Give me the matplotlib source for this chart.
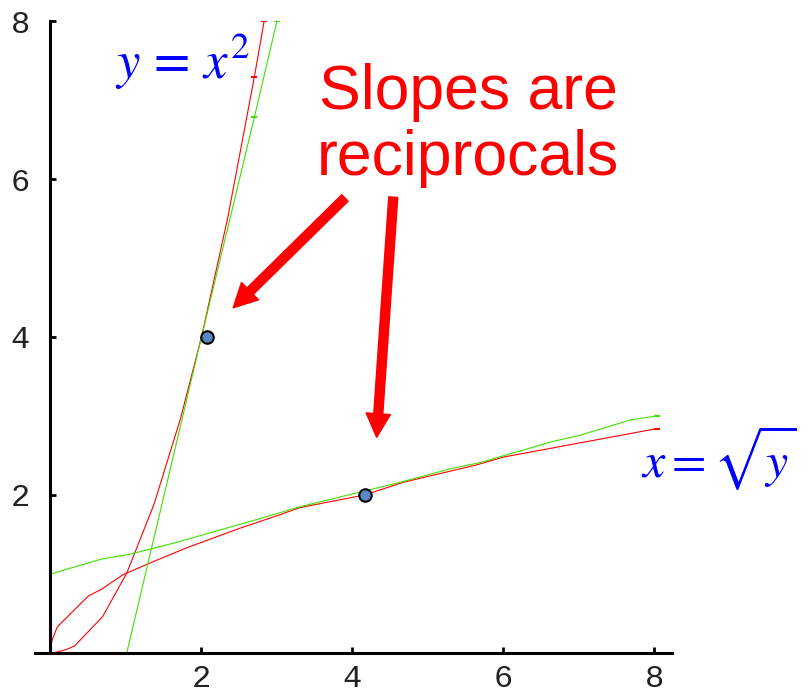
import matplotlib.pyplot as plt

# parabola y = x^2, sampled points
par_x = [0.07, 0.20, 0.32, 0.69, 1.01, 1.37, 1.72, 2.00, 2.35, 2.70, 2.83]
par_y = [0.01, 0.04, 0.09, 0.46, 1.01, 1.88, 2.96, 4.00, 5.52, 7.29, 8.00]

# inverse x = sqrt(y), sampled points
root_x = [0.00, 0.02, 0.09, 0.50, 0.68, 0.96, 1.32, 1.80, 2.51, 3.04, 3.30,
          4.16, 4.67, 5.64, 6.00, 8.03]
root_y = [0.04, 0.16, 0.33, 0.72, 0.81, 0.99, 1.14, 1.33, 1.58, 1.75, 1.84,
          2.00, 2.16, 2.38, 2.48, 2.84]

# tangent lines at the two points
tan1_x = [1.01, 2.00, 2.70, 3.00]
tan1_y = [0.00, 4.00, 6.78, 8.00]
tan2_x = [0.00, 0.68, 1.05, 1.67, 2.77, 3.30, 4.67, 5.33, 5.69, 6.66, 6.99, 7.68, 8.03]
tan2_y = [1.00, 1.19, 1.25, 1.40, 1.70, 1.85, 2.17, 2.34, 2.41, 2.68, 2.75, 2.95, 3.00]

# points of tangency
pts_x = [2.07, 4.16]
pts_y = [4.00, 2.00]

# arrow tails and tips
arrow_tail = [(3.90, 5.76), (4.54, 5.77)]
arrow_tip = [(2.42, 4.37), (4.32, 2.73)]

ticks = [2, 4, 6, 8]

red = "#ff0000"
green = "#40e000"
blue = "#0000ff"

plt.rcParams["mathtext.fontset"] = "stix"

fig = plt.figure(figsize=(8.08, 6.98), dpi=100)
ax = fig.add_axes([0.0438, 0.0645, 0.7877, 0.9054])
ax.set_xlim(-0.2, 8.23)
ax.set_ylim(0, 8)

ax.plot(par_x, par_y, color=red, lw=0.8)
ax.plot(root_x, root_y, color=red, lw=0.8)
ax.plot(tan1_x, tan1_y, color=green, lw=0.8)
ax.plot(tan2_x, tan2_y, color=green, lw=0.8)

# little end marks on the steep curves
ax.plot([par_x[-2], par_x[-1]], [par_y[-2], par_y[-1]], ls="none",
        marker="_", ms=5, mew=1.5, color=red)
ax.plot([tan1_x[-2], tan1_x[-1]], [tan1_y[-2], tan1_y[-1]], ls="none",
        marker="_", ms=5, mew=1.5, color=green)
ax.plot([root_x[-1]], [root_y[-1]], ls="none", marker="_", ms=4, mew=1.5, color=red)
ax.plot([tan2_x[-1]], [tan2_y[-1]], ls="none", marker="_", ms=4, mew=1.5, color=green)

ax.plot(pts_x, pts_y, ls="none", marker="o", ms=9, mfc="#5b88c4",
        mec="black", mew=1.5, zorder=5)

for tail, tip in zip(arrow_tail, arrow_tip):
    ax.annotate("", xy=tip, xytext=tail,
                arrowprops=dict(arrowstyle="simple,head_width=1.75,head_length=1.7,tail_width=0.65",
                                mutation_scale=10, color=red, shrinkA=0, shrinkB=0))

ax.text(5.53, 6.68, "Slopes are\nreciprocals", color=red, fontsize=45,
        family="Liberation Sans", ha="center", va="center", linespacing=1.15)

ax.text(0.85, 7.48, r"$y\,=\,x^2$", color=blue, fontsize=38, ha="left", va="center")
ax.text(7.82, 2.47, r"$x = \sqrt{y}$", color=blue, fontsize=36, ha="left", va="center",
        clip_on=False)

# axes: left spine at x = 0, bottom spine across the full width
for side in ["top", "right"]:
    ax.spines[side].set_visible(False)
ax.spines["left"].set_position(("data", 0))
ax.spines["left"].set_bounds(0, 8)
for side in ["left", "bottom"]:
    ax.spines[side].set_linewidth(2.2)

ax.set_xticks(ticks)
ax.set_yticks(ticks)
ax.tick_params(direction="in", length=4, width=2, labelsize=23, color="black",
               labelcolor="#222222")
ax.tick_params(axis="x", pad=8)
ax.tick_params(axis="y", pad=15)
for lab in ax.get_xticklabels() + ax.get_yticklabels():
    lab.set_family("Liberation Mono")

fig.savefig("out.png", dpi=100)
